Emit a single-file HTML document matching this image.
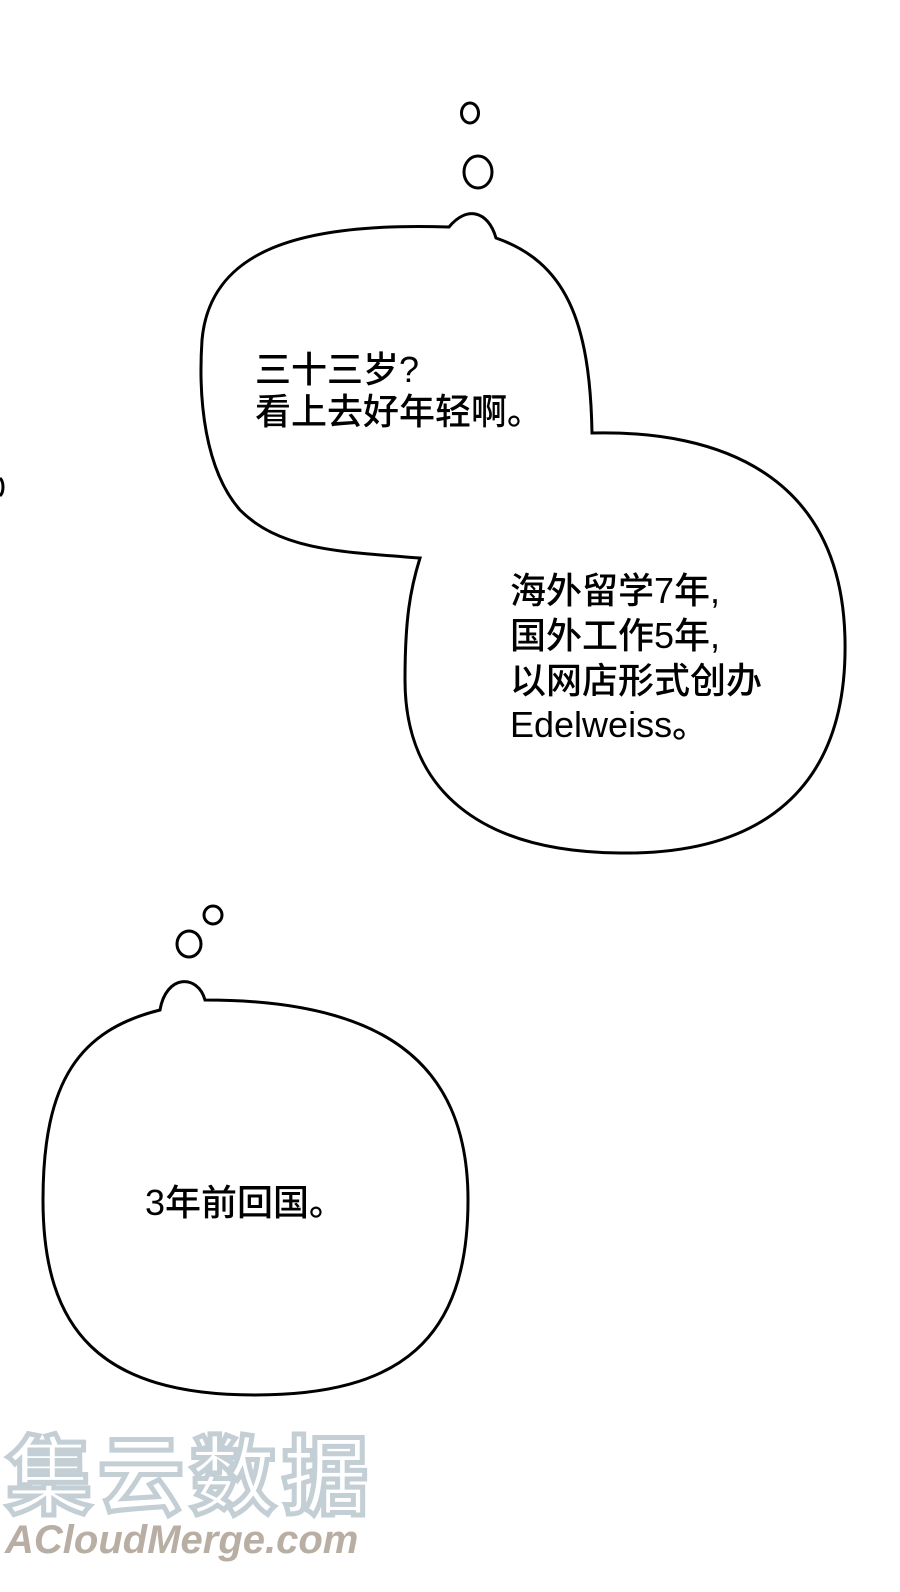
<!DOCTYPE html>
<html><head><meta charset="utf-8"><style>
html,body{margin:0;padding:0;background:#fff;}
svg{display:block}
text{font-family:"Liberation Sans","Noto Sans CJK SC",sans-serif;}
</style></head><body>
<svg width="900" height="1592" viewBox="0 0 900 1592" xmlns="http://www.w3.org/2000/svg">
<rect width="900" height="1592" fill="#fff"/>
<g fill="none" stroke="#000" stroke-width="3">
<ellipse cx="470" cy="113" rx="8.5" ry="10"/>
<ellipse cx="478" cy="172" rx="14" ry="16"/>
<path d="M449 227 C466 206 488 210 496 238 C565 262 590 320 592 433 C720 430 842 475 845 640 C848 790 760 855 620 853 C480 852 405 790 405 680 C405 620 410 590 420 558 C340 552 280 550 240 510 C205 470 198 400 202 340 C210 250 300 222 449 227 Z"/>
<ellipse cx="213" cy="915" rx="9" ry="9"/>
<ellipse cx="189" cy="944" rx="12" ry="13"/>
<path d="M160 1010 C166 974 198 974 205 1000 C380 1000 468 1060 468 1200 C468 1340 400 1395 255 1395 C100 1395 43 1330 43 1200 C43 1080 80 1030 160 1010 Z"/>
<path d="M0 478 C4 482 4 492 0 496" stroke-width="3"/>
</g>
<g font-size="36" font-weight="500" fill="#000">
<text x="255" y="382">三十三岁?</text>
<text x="255" y="424">看上去好年轻啊。</text>
<text x="510" y="603">海外留学7年,</text>
<text x="510" y="648">国外工作5年,</text>
<text x="510" y="693">以网店形式创办</text>
<text x="510" y="737">Edelweiss。</text>
<text x="145" y="1215">3年前回国。</text>
</g>
<text x="6" y="1507" font-size="86" font-weight="bold" fill="#fff" stroke="#c3ced5" stroke-width="5" style="letter-spacing:6px">集云数据</text>
<text x="5" y="1553" font-size="40" font-weight="bold" font-style="italic" fill="#b8aea3">ACloudMerge.com</text>
</svg>
</body></html>
